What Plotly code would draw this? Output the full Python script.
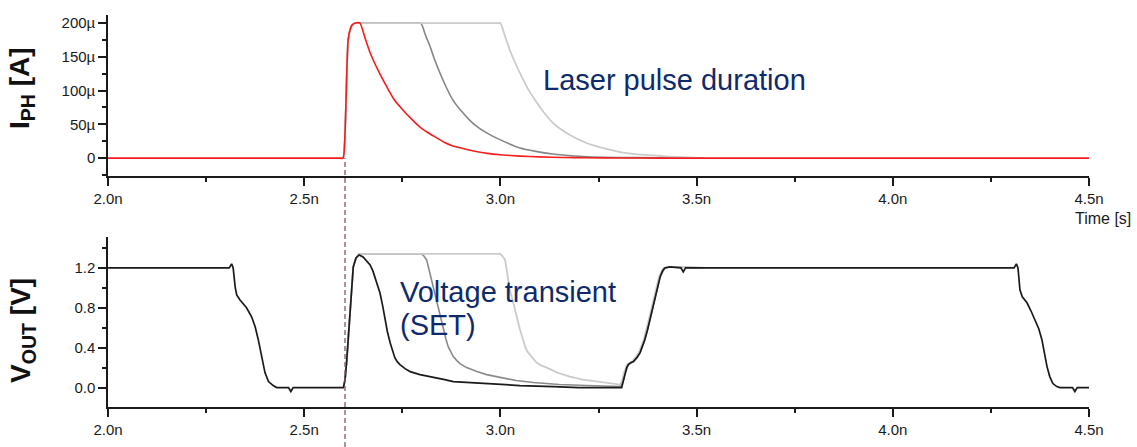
import plotly.graph_objects as go

# ---------------- data (time in ns) ----------------
# Top panel: photocurrent, values in µA
t_red = [2.0, 2.590, 2.599, 2.604, 2.609, 2.612, 2.617, 2.622, 2.630, 2.642, 2.655, 2.668, 2.690,
         2.711, 2.730, 2.752, 2.775, 2.795, 2.815, 2.838, 2.858, 2.879, 2.900, 2.920,
         2.945, 2.966, 3.000, 3.050, 3.100, 3.160, 3.221, 3.300, 3.400, 4.500]
i_red = [0, 0, 0, 37, 135, 175, 190, 197, 200, 200, 178, 156, 128,
         105, 86, 71, 57, 46, 38, 30, 23, 18, 15, 12,
         9, 7, 5, 3, 1.8, 1, 0.5, 0.2, 0, 0]

t_dark = [2.590, 2.599, 2.604, 2.609, 2.612, 2.617, 2.622, 2.630, 2.642, 2.660, 2.700,
          2.740, 2.780, 2.790, 2.797, 2.803, 2.808,
          2.821, 2.833, 2.846, 2.862, 2.879, 2.900, 2.922, 2.944, 2.966, 3.000, 3.050,
          3.090, 3.134, 3.180, 3.221, 3.300, 3.400, 3.516]
i_dark = [0, 0, 37, 135, 175, 190, 197, 200, 200, 200, 200,
          200, 200, 200, 200, 193, 184,
          165, 145, 126, 105, 86, 70, 56, 45, 37, 27, 15,
          10, 6, 3.5, 2, 1, 0.4, 0]

t_light = [2.590, 2.599, 2.604, 2.609, 2.612, 2.617, 2.622, 2.630, 2.642, 2.660, 2.700,
           2.750, 2.800, 2.850, 2.900, 2.950, 2.985, 2.993, 3.000, 3.005, 3.011,
           3.024, 3.037, 3.050, 3.070, 3.093, 3.113, 3.134, 3.175, 3.221, 3.260,
           3.305, 3.345, 3.389, 3.430, 3.476, 3.516]
i_light = [0, 0, 37, 135, 175, 190, 197, 200, 200, 200, 200,
           200, 200, 200, 200, 200, 200, 200, 200, 193, 182,
           160, 142, 126, 103, 82, 66, 52, 35, 22, 15,
           9, 6, 4, 2.3, 1, 0]

# Bottom panel: output voltage, V
t_vb = [2.0, 2.309, 2.315, 2.319, 2.324, 2.328, 2.336, 2.353, 2.366, 2.375, 2.383,
        2.392, 2.400, 2.409, 2.421, 2.430, 2.460, 2.466, 2.472,
        2.600, 2.604, 2.608, 2.612, 2.617, 2.621, 2.625, 2.632, 2.640, 2.650,
        2.660, 2.668, 2.675, 2.680, 2.687, 2.693, 2.700, 2.706, 2.712, 2.719,
        2.725, 2.731, 2.737, 2.744, 2.757, 2.770, 2.795, 2.815, 2.837, 2.858,
        2.880, 2.920, 2.965, 3.000, 3.050, 3.135, 3.200,
        3.309, 3.313, 3.318, 3.322, 3.326, 3.332, 3.339, 3.348, 3.356, 3.362,
        3.368, 3.375, 3.381, 3.388, 3.394, 3.400, 3.407, 3.413, 3.419, 3.432,
        3.460, 3.466, 3.472,
        4.309, 4.315, 4.319, 4.324, 4.330, 4.342, 4.352, 4.362, 4.372, 4.380,
        4.393, 4.400, 4.408, 4.418, 4.426, 4.458, 4.464, 4.470, 4.500]
v_vb = [1.2, 1.2, 1.24, 1.2, 1.01, 0.93, 0.88, 0.80, 0.71, 0.61, 0.48,
        0.31, 0.15, 0.06, 0.02, 0.0, 0.0, -0.04, 0.0,
        0.0, 0.08, 0.25, 0.48, 0.81, 1.08, 1.21, 1.30, 1.33, 1.31,
        1.27, 1.23, 1.17, 1.11, 1.04, 0.95, 0.82, 0.68, 0.56, 0.45,
        0.37, 0.30, 0.26, 0.23, 0.19, 0.16, 0.13, 0.115, 0.10, 0.08,
        0.06, 0.05, 0.04, 0.03, 0.02, 0.01, 0.0,
        0.0, 0.07, 0.15, 0.20, 0.23, 0.25, 0.26, 0.30, 0.35, 0.41,
        0.48, 0.58, 0.68, 0.80, 0.91, 1.02, 1.11, 1.17, 1.20, 1.21,
        1.2, 1.16, 1.2,
        1.2, 1.24, 1.2, 0.98, 0.91, 0.85, 0.77, 0.68, 0.59, 0.48,
        0.21, 0.11, 0.04, 0.01, 0.0, 0.0, -0.04, 0.0, 0.0]

t_vd = [2.600, 2.604, 2.608, 2.612, 2.617, 2.621, 2.625, 2.632, 2.640, 2.799, 2.805,
        2.812, 2.820, 2.829, 2.836, 2.842, 2.849, 2.855, 2.861, 2.867, 2.874,
        2.880, 2.889, 2.897, 2.914, 2.940, 2.965, 2.999, 3.040, 3.084, 3.150,
        3.220, 3.305, 3.313, 3.318, 3.326, 3.339, 3.356, 3.368, 3.381, 3.394,
        3.407, 3.419, 3.432, 3.520]
v_vd = [0.0, 0.08, 0.25, 0.48, 0.81, 1.08, 1.21, 1.30, 1.34, 1.34, 1.32,
        1.28, 1.15, 0.98, 0.88, 0.78, 0.68, 0.58, 0.49, 0.41, 0.35,
        0.31, 0.27, 0.24, 0.20, 0.16, 0.13, 0.10, 0.07, 0.05, 0.03,
        0.02, 0.01, 0.07, 0.15, 0.23, 0.26, 0.35, 0.48, 0.68, 0.91,
        1.11, 1.20, 1.21, 1.2]

t_vl = [2.600, 2.604, 2.608, 2.612, 2.617, 2.621, 2.625, 2.632, 2.640, 2.999, 3.005,
        3.012, 3.018, 3.024, 3.031, 3.037, 3.044, 3.050, 3.057, 3.063, 3.069,
        3.075, 3.083, 3.092, 3.105, 3.118, 3.145, 3.177, 3.210, 3.245, 3.275,
        3.305, 3.310, 3.315, 3.323, 3.336, 3.353, 3.365, 3.378, 3.391,
        3.404, 3.416, 3.430, 3.520]
v_vl = [0.0, 0.08, 0.25, 0.48, 0.81, 1.08, 1.21, 1.30, 1.34, 1.34, 1.32,
        1.28, 1.15, 0.98, 0.88, 0.78, 0.68, 0.58, 0.49, 0.41, 0.36,
        0.33, 0.29, 0.25, 0.22, 0.20, 0.15, 0.11, 0.08, 0.06, 0.045,
        0.03, 0.07, 0.15, 0.23, 0.26, 0.35, 0.48, 0.68, 0.91,
        1.11, 1.20, 1.21, 1.2]

x_tickvals = [2.0, 2.5, 3.0, 3.5, 4.0, 4.5]
x_ticktext = ["2.0n", "2.5n", "3.0n", "3.5n", "4.0n", "4.5n"]
yi_tickvals = [0, 50, 100, 150, 200]
yi_ticktext = ["0", "50µ", "100µ", "150µ", "200µ"]
yv_tickvals = [0.0, 0.4, 0.8, 1.2]
yv_ticktext = ["0.0", "0.4", "0.8", "1.2"]
pulse_start = 2.604

# ---------------- figure ----------------
W, H = 1137, 447
FONT = "Liberation Sans, Arial, sans-serif"

fig = go.Figure()
fig.add_trace(go.Scatter(x=t_dark, y=i_dark, mode="lines",
                         line=dict(color="#858585", width=1.6, shape="spline", smoothing=0.6),
                         xaxis="x", yaxis="y", hoverinfo="skip"))
fig.add_trace(go.Scatter(x=t_light, y=i_light, mode="lines",
                         line=dict(color="#cbcbcb", width=1.8, shape="spline", smoothing=0.6),
                         xaxis="x", yaxis="y", hoverinfo="skip"))
fig.add_trace(go.Scatter(x=t_red, y=i_red, mode="lines",
                         line=dict(color="#f51c1c", width=1.6, shape="spline", smoothing=0.6),
                         xaxis="x", yaxis="y", hoverinfo="skip"))
fig.add_trace(go.Scatter(x=t_vd, y=v_vd, mode="lines", line=dict(color="#8a8a8a", width=1.6),
                         xaxis="x2", yaxis="y2", hoverinfo="skip"))
fig.add_trace(go.Scatter(x=t_vl, y=v_vl, mode="lines", line=dict(color="#cbcbcb", width=1.8),
                         xaxis="x2", yaxis="y2", hoverinfo="skip"))
fig.add_trace(go.Scatter(x=t_vb, y=v_vb, mode="lines", line=dict(color="#1a1a1a", width=1.7),
                         xaxis="x2", yaxis="y2", hoverinfo="skip"))

xdom = [108 / W, 1089 / W]
axis_common = dict(showline=True, linecolor="#1a1a1a", linewidth=1.5, ticks="outside",
                   ticklen=8, tickwidth=1.5, tickcolor="#1a1a1a", showgrid=False,
                   zeroline=False, automargin=False,
                   tickfont=dict(family=FONT, size=15, color="#1a1a1a"))

fig.update_layout(
    width=W, height=H, margin=dict(l=0, r=0, t=0, b=0, pad=0, autoexpand=False),
    paper_bgcolor="white", plot_bgcolor="white", showlegend=False,
    xaxis=dict(domain=xdom, range=[2.0, 4.5], anchor="y", tickmode="array",
               tickvals=x_tickvals, ticktext=x_ticktext,
               minor=dict(dtick=0.25, tick0=2.0, ticklen=4, tickwidth=1.5, tickcolor="#1a1a1a"),
               **axis_common),
    yaxis=dict(domain=[1 - 176 / H, 1 - 15 / H], range=[-26.5, 212], anchor="x", tickmode="array",
               tickvals=yi_tickvals, ticktext=yi_ticktext,
               minor=dict(dtick=25, tick0=0, ticklen=4, tickwidth=1.5, tickcolor="#1a1a1a"),
               **axis_common),
    xaxis2=dict(domain=xdom, range=[2.0, 4.5], anchor="y2", tickmode="array",
                tickvals=x_tickvals, ticktext=x_ticktext,
                minor=dict(dtick=0.25, tick0=2.0, ticklen=4, tickwidth=1.5, tickcolor="#1a1a1a"),
                **axis_common),
    yaxis2=dict(domain=[1 - 407 / H, 1 - 237 / H], range=[-0.195, 1.51], anchor="x2", tickmode="array",
                tickvals=yv_tickvals, ticktext=yv_ticktext,
                minor=dict(dtick=0.2, tick0=0, ticklen=4, tickwidth=1.5, tickcolor="#1a1a1a"),
                **axis_common),
)

fig.add_shape(type="line", xref="x", yref="paper", x0=pulse_start, x1=pulse_start,
              y0=0, y1=1 - 158 / H, line=dict(color="#8a5565", width=1.3, dash="5px,3px"))

navy = "#0f2a6b"
ann = [
    dict(text="<b>I<sub>PH</sub> [A]</b>", x=22 / W, y=1 - 88 / H, textangle=-90,
         font=dict(family=FONT, size=28, color="#111111"), xanchor="center", yanchor="middle"),
    dict(text="<b>V<sub>OUT</sub> [V]</b>", x=22 / W, y=1 - 331 / H, textangle=-90,
         font=dict(family=FONT, size=28, color="#111111"), xanchor="center", yanchor="middle"),
    dict(text="Laser pulse duration", x=541 / W, y=1 - 80 / H, xanchor="left", yanchor="middle",
         font=dict(family=FONT, size=29, color=navy)),
    dict(text="Voltage transient", x=398 / W, y=1 - 292 / H, xanchor="left", yanchor="middle",
         font=dict(family=FONT, size=29, color=navy)),
    dict(text="(SET)", x=398 / W, y=1 - 325 / H, xanchor="left", yanchor="middle",
         font=dict(family=FONT, size=29, color=navy)),
    dict(text="Time [s]", x=1073 / W, y=1 - 218 / H, xanchor="left", yanchor="middle",
         font=dict(family=FONT, size=16, color="#1a1a1a")),
]
for a in ann:
    a.update(xref="paper", yref="paper", showarrow=False)
    fig.add_annotation(**a)

fig.write_html("out.html")
